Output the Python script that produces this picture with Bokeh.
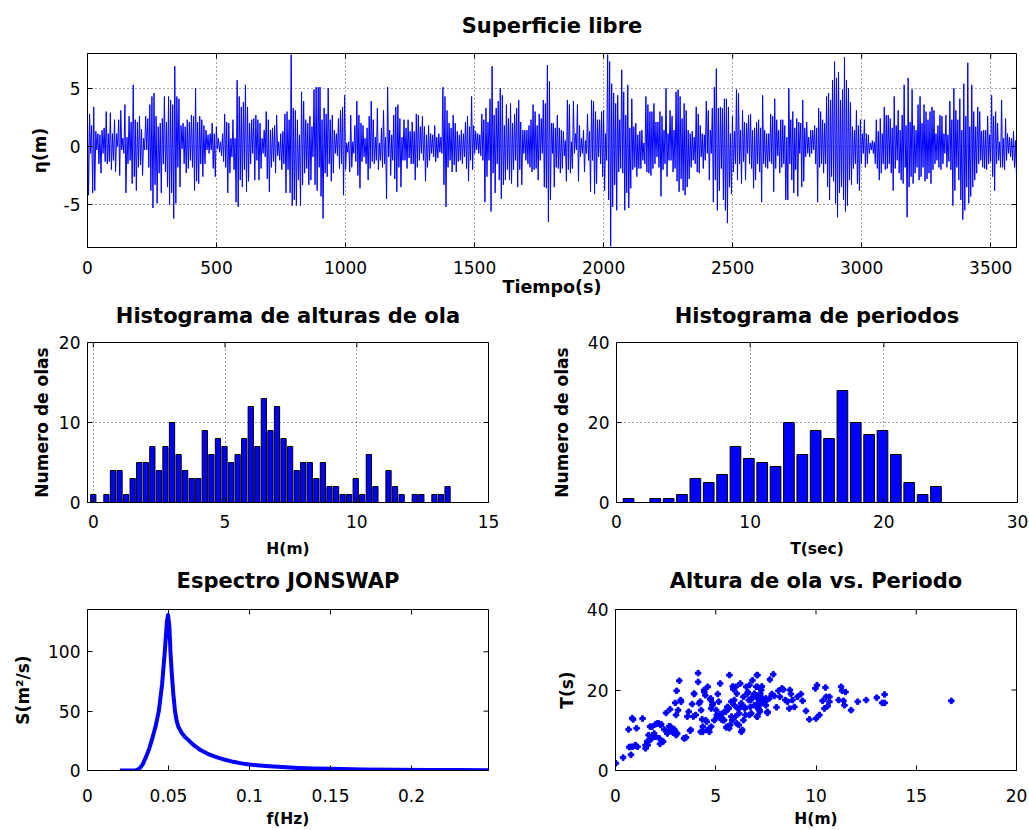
import numpy as np
from bokeh.plotting import figure
from bokeh.layouts import column, row
from bokeh.models import FixedTicker, Range1d, PrintfTickFormatter, LinearAxis
from bokeh.embed import file_html
from bokeh.resources import INLINE

FONT = "DejaVu Sans"

# ---------------- data ----------------
# surface elevation: alternating crest / trough values (m), four consecutive time segments
seg_times = [(0, 898), (901, 1802), (1805, 2706), (2710, 3600)]
eta_seg1 = [2.4,-4.2, 2.8,-0.6, 1.8,-4.0, 3.4,-3.8, 1.3,-0.3, 1.1,-1.5, 1.0,-2.3, 1.4,-0.6, 1.6,-1.3, 3.0,-1.5,
    1.1,-1.3, 2.9,-2.0, 1.1,-1.2, 2.3,-2.2, 1.1,0.0, 2.3,-2.5, 3.1,-0.3, 0.7,-0.6, 3.6,-4.0, 0.8,-1.5,
    2.6,-1.2, 2.1,-3.2, 5.3,-2.6, 2.3,-3.8, 2.1,-1.8, 2.6,-1.6, 1.5,-2.5, 0.7,-0.3, 2.6,-0.3, 2.4,-1.8,
    3.6,-3.8, 4.3,-5.3, 4.6,-3.3, 2.6,-4.9, 1.7,-2.3, 2.0,-4.0, 2.4,-1.5, 4.3,-2.2, 2.1,-3.5, 4.3,-5.0,
    4.0,-4.0, 3.6,-6.2, 6.9,-4.9, 4.3,-1.8, 4.1,-3.5, 1.8,-0.2, 2.0,-1.5, 1.7,-2.3, 2.3,-1.9, 2.1,-1.2,
    2.7,-1.8, 2.6,-3.8, 5.0,-3.0, 2.1,-3.2, 2.6,-1.5, 2.3,-2.6, 1.8,-1.5, 1.4,-0.3, 1.0,-0.6, 1.1,-0.3,
    2.0,-1.9, 1.1,-2.6, 1.7,-0.2, 0.7,-0.5, 0.4,-0.8, 1.1,-1.3, 2.8,-1.8, 2.1,-4.0, 2.0,-2.3, 0.7,-0.9,
    2.3,-2.0, 0.7,-4.8, 5.7,-5.2, 4.3,-2.9, 3.4,-3.5, 3.8,-2.0, 5.3,-3.9, 3.4,-3.0, 2.0,-1.5, 2.3,-0.6,
    2.4,-2.9, 2.7,-1.2, 2.3,-2.9, 2.0,-1.9, 0.7,-0.6, 1.4,-0.9, 3.0,-2.8, 2.3,-3.9, 1.4,-1.8, 1.6,-1.3,
    1.8,-2.3, 2.7,-0.8, 0.4,-1.2, 1.1,-2.0, 1.3,-1.5, 2.8,-4.0, 3.0,-2.0, 2.3,-4.0, 7.9,-5.1, 3.3,-4.6,
    3.1,-5.1, 2.3,-2.9, 1.0,-5.1, 4.7,-3.3, 3.9,-2.3, 2.3,-1.9, 2.0,-3.3, 2.6,-2.9, 1.7,-0.9, 4.9,-3.3,
    5.1,-3.8, 5.1,-1.8]
eta_seg2 = [5.1,-4.3, 2.3,-6.2, 3.3,-2.3, 2.8,-2.6, 5.0,-1.5, 2.3,-3.0, 2.7,-2.3, 1.4,-0.6, 1.1,-0.8, 2.4,-1.9,
    3.1,-1.5, 3.4,-4.2, 4.4,-2.0, 0.3,-0.5, 0.4,-2.2, 2.7,-1.8, 0.4,-0.6, 1.8,-1.3, 3.9,-2.5, 2.7,-3.6,
    2.0,-1.3, 1.8,-0.9, 0.7,-1.5, 1.6,-2.9, 2.6,-1.9, 3.9,-1.3, 2.3,-1.5, 0.8,-1.2, 3.3,-2.0, 0.3,-1.2,
    1.6,-1.8, 3.1,-1.5, 0.8,-4.5, 5.1,-0.9, 1.4,-2.5, 1.0,-1.2, 2.7,-2.8, 3.4,-3.9, 3.6,-1.8, 2.4,-3.5,
    0.8,-1.2, 2.3,-1.2, 1.6,-1.9, 2.3,-1.0, 1.3,-1.5, 2.1,-1.5, 1.3,-2.9, 2.8,-1.8, 2.7,-1.2, 1.7,-0.6,
    2.6,-1.2, 1.7,-3.0, 1.0,-1.8, 1.8,-1.2, 1.1,-0.6, 1.0,-0.9, 1.8,-1.3, 0.8,-1.0, 1.1,-0.5, 0.8,-0.6,
    5.1,-3.3, 4.3,-5.2, 3.1,-1.8, 2.0,-1.2, 1.6,-2.2, 2.7,-1.6, 2.0,-2.2, 1.3,-1.3, 1.0,-1.2, 1.4,-1.5,
    1.1,-0.9, 2.1,-1.9, 2.6,-3.0, 1.7,-1.2, 4.3,-2.0, 1.8,-0.6, 1.3,-0.3, 1.1,-0.6, 1.0,-0.8, 2.8,-1.2,
    2.3,-4.8, 3.3,-2.6, 2.1,-1.2, 4.1,-5.6, 6.9,-2.3, 2.7,-4.0, 3.3,-1.5, 3.9,-2.9, 5.0,-4.5, 4.4,-3.3,
    1.8,-2.9, 3.6,-2.0, 2.4,-2.9, 3.7,-3.2, 2.0,-2.0, 2.8,-1.2, 3.3,-3.5, 4.0,-2.0, 2.1,-3.3, 1.4,-0.6,
    1.4,-1.2, 1.4,-1.5, 1.8,-1.8, 2.3,-2.2, 3.6,-2.0, 3.0,-1.9, 1.8,-2.9, 2.8,-1.2, 2.4,-0.6, 4.0,-3.5,
    3.7,-3.6, 7.0,-6.5, 5.6,-4.6, 2.0,-0.6]
eta_seg3 = [2.0,-3.5, 1.6,-1.8, 2.7,-1.9, 1.6,-2.3, 1.4,-1.9, 1.3,-0.8, 0.5,-3.0, 4.0,-2.0, 3.6,-2.3, 0.4,-1.9,
    3.9,-0.6, 1.1,-0.3, 3.6,-3.0, 1.8,-0.9, 0.7,-0.6, 1.4,-2.2, 0.5,-0.6, 2.8,-1.2, 1.3,-3.9, 4.0,-1.2,
    3.9,-4.1, 3.0,-3.2, 2.3,-0.9, 2.3,-1.5, 3.0,-2.6, 3.1,-3.8, 1.1,-1.2, 7.9,-4.6, 7.3,-8.6, 5.4,-5.2,
    4.6,-3.3, 3.7,-5.5, 4.4,-2.2, 2.3,-1.9, 6.6,-2.3, 4.7,-5.5, 2.7,-4.0, 5.3,-5.3, 1.6,-3.6, 4.1,-2.0,
    1.7,-1.8, 2.0,-2.6, 1.0,-1.9, 1.3,-1.9, 1.4,-1.2, 0.3,-1.5, 4.3,-2.2, 3.6,-2.3, 3.0,-2.5, 3.0,-1.9,
    3.7,-1.5, 2.1,-0.9, 2.1,-1.8, 3.0,-4.3, 2.6,-2.0, 1.4,-1.5, 5.0,-2.6, 1.1,-1.2, 3.1,-1.2, 2.6,-2.2,
    1.4,-1.9, 4.7,-3.0, 4.9,-3.9, 4.3,-2.8, 2.4,-3.8, 3.7,-4.2, 3.1,-3.5, 1.4,-2.8, 1.1,-1.8, 1.3,-1.2,
    0.8,-1.5, 3.4,-2.2, 2.8,-2.3, 1.8,-0.9, 1.1,-1.9, 1.0,-1.2, 3.9,-0.6, 3.1,-2.9, 1.4,-0.6, 3.3,-4.8,
    5.1,-2.9, 6.7,-5.5, 3.3,-3.8, 3.4,-1.9, 3.3,-4.6, 4.1,-5.5, 4.1,-6.6, 3.4,-3.5, 1.1,-4.1, 2.6,-2.2,
    1.3,-1.5, 4.9,-2.9, 4.6,-1.5, 1.4,-3.2, 3.1,-1.3, 2.1,-2.9, 2.0,-0.6, 2.7,-1.5, 2.8,-1.9, 1.4,-3.6,
    1.6,-2.9, 2.1,-1.5, 2.3,-2.2, 1.6,-4.8, 4.4,-1.5, 1.4,-1.8, 1.1,-1.9, 1.1,-1.3, 2.8,-1.5, 2.6,-3.9,
    4.1,-1.9, 2.3,-0.8, 1.4,-2.3, 2.3,-1.8, 2.3,-1.5, 1.8,-4.6]
eta_seg4 = [0.8,-4.6, 5.0,-1.5, 2.3,-2.9, 3.0,-4.0, 1.6,-2.0, 2.4,-4.3, 2.1,-0.6, 2.0,-3.5, 4.0,-3.0, 1.6,-0.9,
    2.1,-0.6, 0.8,-0.9, 1.4,-0.6, 1.4,-0.3, 1.8,-1.5, 1.6,-4.8, 3.3,-1.8, 3.0,-1.5, 2.3,-2.3, 2.0,-1.5,
    4.3,-3.5, 4.6,-4.6, 4.0,-2.6, 5.7,-3.0, 7.3,-4.9, 5.9,-6.1, 6.4,-4.0, 4.0,-3.5, 4.9,-4.6, 7.7,-5.6,
    5.7,-5.1, 5.0,-2.9, 3.8,-3.3, 1.7,-1.9, 1.4,-1.5, 3.1,-3.2, 1.8,-3.8, 2.3,-1.5, 1.1,-0.6, 2.3,-1.8,
    1.1,-1.5, 1.0,-0.6, 0.3,-0.3, 0.5,-0.6, 0.4,-1.5, 2.3,-1.9, 1.3,-2.9, 2.4,-2.3, 1.1,-1.5, 3.4,-2.0,
    2.7,-1.9, 2.7,-1.5, 2.4,-2.3, 1.6,-3.8, 4.3,-1.9, 1.8,-1.2, 3.1,-2.3, 1.4,-2.9, 2.7,-3.2, 5.3,-1.8,
    1.8,-6.1, 5.9,-3.5, 2.1,-2.6, 4.9,-3.2, 1.8,-2.3, 1.4,-1.8, 3.6,-2.9, 4.3,-2.6, 2.0,-1.8, 3.6,-3.0,
    3.0,-2.8, 2.3,-2.3, 3.0,-3.2, 3.4,-2.0, 3.1,-1.5, 1.1,-1.2, 1.8,-1.8, 2.7,-2.0, 2.6,-1.5, 1.1,-0.6,
    2.7,-1.8, 1.0,-1.3, 3.9,-2.0, 2.3,-5.1, 5.0,-3.8, 3.1,-1.8, 2.3,-2.9, 4.1,-4.6, 1.4,-6.3, 5.4,-5.5,
    2.6,-3.5, 7.2,-4.9, 1.7,-4.3, 5.3,-3.5, 3.0,-2.9, 1.7,-2.3, 3.4,-1.5, 3.0,-1.2, 1.3,-1.8, 1.4,-1.9,
    1.4,-2.0, 2.6,-1.5, 1.0,-1.3, 4.4,-2.6, 2.6,-3.8, 3.0,-1.5, 2.0,-1.2, 0.4,-1.8, 4.0,-1.8, 0.7,-2.0,
    2.4,-1.2, 1.1,-0.6, 0.8,-0.9, 0.7,-1.2, 1.3,-1.8, 0.5,-2.5]

# wave-height histogram (bin width 0.249 m, first bin centred at 0)
h_bin_start = 0.0
h_bin_step = 0.249
h_counts = [1, 0, 1, 4, 4, 1, 3, 5, 5, 7, 4, 7, 10, 6, 4, 3, 3, 9, 6, 8, 7, 5, 6, 8, 12, 7, 13, 9, 12, 8,
            7, 4, 5, 5, 3, 5, 2, 2, 1, 1, 3, 1, 6, 2, 0, 4, 2, 1, 0, 1, 1, 0, 1, 1, 2]

# period histogram (bin width 1 s, first bin centred at 0.9 s)
t_bin_start = 0.9
t_bin_step = 1.0
t_counts = [1, 0, 1, 1, 2, 6, 5, 7, 14, 11, 10, 9, 20, 12, 18, 16, 28, 20, 17, 18, 12, 5, 2, 4]

# JONSWAP spectrum
spec_f = [0.020, 0.025, 0.030, 0.032, 0.034, 0.036, 0.038, 0.040, 0.042, 0.044, 0.046, 0.0477, 0.049,
          0.0497, 0.0505, 0.0512, 0.052, 0.053, 0.054, 0.055, 0.056, 0.058, 0.060, 0.062, 0.065, 0.070,
          0.075, 0.080, 0.085, 0.090, 0.095, 0.100, 0.110, 0.120, 0.130, 0.140, 0.150, 0.170, 0.190,
          0.210, 0.230, 0.2475]
spec_S = [0.0, 0.0, 0.3, 1.5, 5.0, 11.0, 18.0, 27.0, 37.0, 50.0, 72.0, 100.0, 125.0,
          131.0, 122.0, 100.0, 82.0, 64.0, 50.0, 42.0, 37.0, 32.0, 28.5, 26.0, 22.0, 17.0,
          13.5, 11.0, 9.0, 7.3, 6.0, 5.0, 3.8, 2.9, 2.2, 1.7, 1.4, 0.9, 0.6,
          0.45, 0.35, 0.28]

# wave height vs period scatter
scat_H = [0.02, 0.38, 0.77, 0.68, 0.85, 0.98, 1.1, 0.65, 0.88, 1.05, 1.35, 1.5, 1.6, 1.65, 1.65, 1.72, 1.82, 1.93,
          1.98, 2.0, 2.15, 2.18, 2.22, 2.28, 2.38, 2.43, 2.52, 2.6, 2.68, 2.72, 2.78, 2.88, 2.93, 2.98, 3.02, 3.02,
          3.05, 3.12, 3.18, 3.27, 3.43, 3.52, 3.65, 3.72, 3.82, 3.88, 3.92, 4.12, 4.12, 4.22, 4.27, 4.32, 4.35,
          4.43, 4.48, 4.35, 4.55, 4.6, 4.68, 4.72, 4.77, 4.77, 4.85, 4.93, 5.02, 5.05, 5.1, 5.15, 5.22, 5.27,
          5.35, 5.43, 5.52, 5.6, 5.65, 5.68, 5.77, 5.82, 5.85, 5.88, 5.93, 5.98, 6.05, 6.1, 6.15, 6.22, 6.27,
          6.32, 6.38, 6.43, 6.48, 6.52, 6.6, 6.65, 6.68, 6.72, 6.77, 6.85, 6.93, 7.02, 7.05, 7.05, 7.1, 7.18,
          7.18, 7.27,
          7.08, 7.08, 7.2, 7.3, 7.08, 7.17, 7.08, 7.2, 7.13, 7.2, 7.08, 7.33, 7.47, 7.5, 7.58, 7.7, 7.87, 7.67,
          7.8, 7.92, 8.03, 8.13, 8.2, 8.3, 8.37, 8.47, 8.58, 8.67, 8.7, 8.75, 8.83, 8.92, 9.08, 9.25, 9.33,
          9.5, 9.67, 9.97, 10.05, 10.0, 10.17, 10.33, 10.42, 10.47, 10.5, 10.58, 10.67, 10.67, 11.13, 11.25,
          11.3, 11.37, 11.42, 11.47, 11.75, 12.08, 12.5, 13.03, 13.3, 13.42, 13.42, 16.75,
          5.08, 5.22, 5.28, 5.42, 5.5, 5.58, 5.67, 5.72, 5.78, 5.92, 6.0, 6.05, 6.17, 6.25, 6.28, 6.38, 6.45,
          6.58, 6.67, 6.75, 6.83, 6.92, 7.0, 7.12, 7.22, 7.33, 7.5, 7.58,
          0.83, 0.75, 1.0, 1.5, 1.58, 1.83, 2.0, 2.08, 2.25, 2.33, 2.58, 2.75, 2.83, 2.92, 3.08, 3.25, 3.42,
          3.58, 3.75, 3.92, 4.0, 4.17, 4.25, 4.42, 4.5, 4.58, 4.75, 4.83]
scat_T = [1.8, 3.2, 3.9, 5.8, 5.9, 6.2, 5.9, 10.2, 12.7, 10.5, 12.9, 5.5, 6.3, 7.2, 8.8, 10.9, 8.0, 9.2,
          8.4, 11.5, 11.7, 8.0, 6.6, 11.5, 7.2, 10.2, 14.3, 9.6, 11.0, 15.2, 10.1, 9.4, 10.2, 16.8, 13.8, 8.8,
          19.8, 15.0, 22.3, 17.1, 8.0, 8.2, 14.6, 9.9, 16.5, 13.4, 19.0, 24.2, 22.0, 17.1, 15.0, 12.7, 10.9,
          19.5, 18.7, 9.6, 12.1, 20.8, 9.6, 17.7, 15.4, 10.9, 16.7, 12.5, 15.0, 13.8, 19.0, 17.1, 21.6, 13.4,
          12.5, 14.6, 10.7, 11.0, 15.4, 23.7, 17.1, 12.5, 20.9, 20.2, 16.2, 13.4, 19.1, 15.4, 11.3, 21.6, 16.7,
          10.1, 18.3, 15.8, 13.8, 20.8, 19.5, 17.5, 21.2, 15.8, 14.2, 18.3, 19.1, 20.8, 23.7, 13.4, 16.7, 17.5,
          15.0, 20.0,
          23.7, 20.8, 20.4, 20.9, 18.3, 17.5, 16.7, 16.3, 15.4, 14.6, 13.4, 17.9, 17.1, 16.2, 14.3, 22.6, 23.9, 17.9,
          19.0, 18.5, 15.7, 19.8, 18.3, 20.4, 20.1, 17.5, 17.1, 15.4, 20.0, 19.0, 17.5, 15.8, 18.3, 19.0, 17.3,
          14.8, 12.7, 20.4, 21.2, 12.9, 13.8, 17.3, 15.4, 20.6, 18.3, 16.0, 18.3, 17.1, 17.5, 20.8,
          19.8, 17.3, 16.2, 19.5, 15.0, 17.1, 17.5, 18.1, 16.8, 16.8, 18.9, 17.3,
          13.4, 14.0, 12.7, 12.5, 14.6, 15.8, 10.5, 11.3, 13.4, 17.5, 20.8, 11.7, 14.2, 15.8, 9.6, 12.5, 15.4,
          19.1, 13.8, 17.5, 22.4, 16.2, 18.3, 15.4, 19.1, 17.1, 17.9, 14.6,
          13.0, 5.9, 6.3, 6.3, 7.2, 10.9, 8.4, 11.7, 11.3, 7.2, 9.2, 10.9, 9.6, 10.1, 9.2, 17.5, 8.0,
          13.4, 10.1, 19.1, 13.8, 16.7, 9.6, 20.0, 12.5, 10.1, 17.9, 16.2]

# ---------------- helpers ----------------
def make(width, height, bl, br, bt, bb, xr, yr, xt, yt, title, xlabel, ylabel,
         grid, xtick_std, xlab_std, ylab_std, title_std, xlab_size="15.5px"):
    p = figure(width=width, height=height, x_range=Range1d(*xr), y_range=Range1d(*yr),
               output_backend="svg", toolbar_location=None, title=None,
               min_border_left=bl, min_border_right=br, min_border_top=bt, min_border_bottom=bb,
               background_fill_color="white", border_fill_color="white")
    p.outline_line_color = "black"
    p.outline_line_width = 1
    xa = p.xaxis[0]
    ya = p.yaxis[0]
    xa.ticker = FixedTicker(ticks=xt)
    ya.ticker = FixedTicker(ticks=yt)
    for ax in (xa, ya):
        ax.formatter = PrintfTickFormatter(format="%g")
        ax.major_tick_in = 5
        ax.major_tick_out = 0
        ax.minor_tick_line_color = None
        ax.major_tick_line_color = "black"
        ax.axis_line_color = "black"
        ax.major_label_text_font = FONT
        ax.major_label_text_font_size = "17px"
        ax.major_label_text_color = "black"
        ax.axis_label_text_font = FONT
        ax.axis_label_text_font_style = "bold"
        ax.axis_label_text_color = "black"
    xa.axis_label = xlabel
    ya.axis_label = ylabel
    xa.axis_label_text_font_size = xlab_size
    ya.axis_label_text_font_size = "17px"
    xa.major_label_standoff = xtick_std
    ya.major_label_standoff = 7
    xa.axis_label_standoff = xlab_std
    ya.axis_label_standoff = ylab_std
    # title: label of a tick-less axis above the frame (keeps the reserved space tight)
    tax = LinearAxis(ticker=FixedTicker(ticks=[]), axis_label=title,
                     axis_label_standoff=title_std, axis_label_text_font=FONT,
                     axis_label_text_font_size="21px", axis_label_text_font_style="bold",
                     axis_label_text_color="black", axis_line_color=None,
                     major_tick_out=0, major_tick_in=0, minor_tick_out=0, minor_tick_in=0,
                     major_tick_line_color=None, minor_tick_line_color=None,
                     major_label_standoff=0)
    p.add_layout(tax, "above")
    # inward ticks mirrored on the top and right edges (half of each dash is clipped by the frame)
    p.scatter(x=xt, y=[yr[1]] * len(xt), marker="dash", angle=np.pi / 2, size=10,
              line_color="black", line_width=1)
    p.scatter(x=[xr[1]] * len(yt), y=yt, marker="dash", size=10,
              line_color="black", line_width=1)
    for g in (p.xgrid[0], p.ygrid[0]):
        if grid:
            g.grid_line_color = "black"
            g.grid_line_dash = "1 3"
            g.grid_line_alpha = 0.7
        else:
            g.visible = False
    return p

# ---------------- figures ----------------
t_all = []
eta_all = []
for (t0, t1), seg in zip(seg_times, [eta_seg1, eta_seg2, eta_seg3, eta_seg4]):
    t_all.extend(np.linspace(t0, t1, len(seg)).tolist())
    eta_all.extend(seg)

p1 = make(1029, 300, 87, 13, 53, 53, (0, 3600), (-8.7, 8.0),
          [0, 500, 1000, 1500, 2000, 2500, 3000, 3500], [-5, 0, 5],
          "Superficie libre", "Tiempo(s)", "η(m)", True, 13, 0, 11, 16, xlab_size="17.5px")
p1.line(t_all, eta_all, line_color="#0000ff", line_width=1)

h_centers = [h_bin_start + i * h_bin_step for i in range(len(h_counts))]
p2 = make(548, 265, 87, 60, 39, 63, (-0.22, 15), (0, 20),
          [0, 5, 10, 15], [0, 10, 20],
          "Histograma de alturas de ola", "H(m)", "Numero de olas", True, 12, 9, 4, 15)
p2.vbar(x=h_centers, top=h_counts, bottom=0, width=0.8 * h_bin_step,
        fill_color="#0000ff", line_color="black", line_width=1)

t_centers = [t_bin_start + i * t_bin_step for i in range(len(t_counts))]
p3 = make(481, 265, 68, 12, 39, 63, (0, 30), (0, 40),
          [0, 10, 20, 30], [0, 20, 40],
          "Histograma de periodos", "T(sec)", "Numero de olas", True, 12, 9, 13, 15)
p3.vbar(x=t_centers, top=t_counts, bottom=0, width=0.8 * t_bin_step,
        fill_color="#0000ff", line_color="black", line_width=1)

p4 = make(548, 265, 87, 60, 44, 59, (0, 0.2475), (0, 135.6),
          [0, 0.05, 0.1, 0.15, 0.2], [0, 50, 100],
          "Espectro JONSWAP", "f(Hz)", "S(m²/s)", False, 18, 5, 12, 17)
p4.line(spec_f, spec_S, line_color="#0000ff", line_width=4, line_join="round")

p5 = make(481, 265, 67, 13, 44, 59, (0, 20), (0, 40),
          [0, 5, 10, 15, 20], [0, 20, 40],
          "Altura de ola vs. Periodo", "H(m)", "T(s)", False, 18, 5, 7, 17)
p5.scatter(scat_H, scat_T, marker="plus", size=5.5, fill_color="#0000ff",
           line_color="#0000ff", line_width=1)

layout = column(p1, row(p2, p3, spacing=0), row(p4, p5, spacing=0), spacing=0)

open("out.html", "w").write(file_html(layout, INLINE))
